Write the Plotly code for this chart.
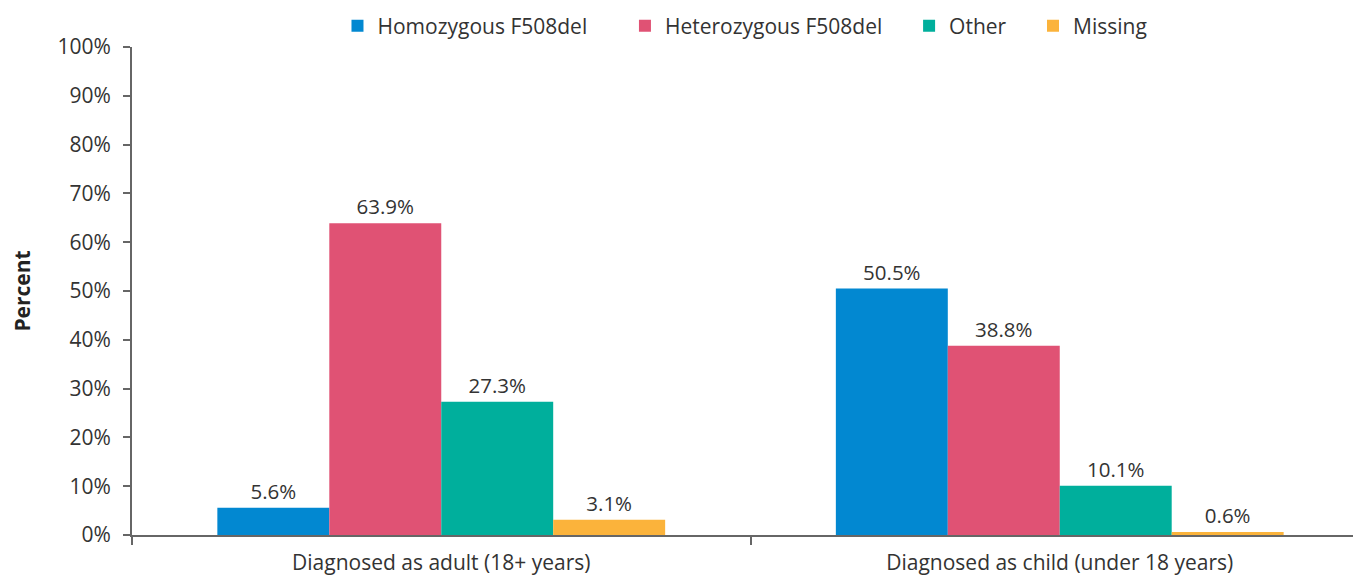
import plotly.graph_objects as go

categories = ["Diagnosed as adult (18+ years)", "Diagnosed as child (under 18 years)"]
series_names = ["Homozygous F508del", "Heterozygous F508del", "Other", "Missing"]
homozygous = [5.6, 50.5]
heterozygous = [63.9, 38.8]
other = [27.3, 10.1]
missing = [3.1, 0.6]
y_ticks = [0, 10, 20, 30, 40, 50, 60, 70, 80, 90, 100]
y_tick_labels = [f"{v}%" for v in y_ticks]

colors = ["#0288D1", "#E05274", "#00AF9C", "#FBB33B"]
values = [homozygous, heterozygous, other, missing]
legend_pad = ["\u00a0" * 6, "\u00a0" * 4, "\u00a0" * 4, ""]

FONT = "Open Sans"
FS = 21
fig = go.Figure()
for name, vals, col, pad in zip(series_names, values, colors, legend_pad):
    fig.add_trace(go.Bar(
        x=categories, y=vals, name=name + pad, marker=dict(color=col, line=dict(width=0)),
        text=[f"{v:.1f}%" for v in vals], textposition="outside",
        textfont=dict(family=FONT, size=20.5, color="#333333"), cliponaxis=False,
    ))

fig.update_layout(
    width=1361, height=575,
    margin=dict(l=124, r=0, t=39, b=48, autoexpand=False),
    paper_bgcolor="white", plot_bgcolor="white",
    barmode="group", bargap=0.276, bargroupgap=0,
    font=dict(family=FONT, size=FS, color="#333333"),
    legend=dict(orientation="h", x=0.5415, xanchor="center", xref="container",
                y=1 - 18 / 575, yanchor="middle", yref="container",
                font=dict(family=FONT, size=FS, color="#333333"), itemwidth=30,
                traceorder="normal"),
    showlegend=True,
    yaxis=dict(range=[0, 100], tickvals=y_ticks, ticktext=y_tick_labels, automargin=False,
               showgrid=False, zeroline=False, showline=True, linecolor="#666666", linewidth=2,
               ticks="outside", ticklen=7, tickcolor="#666666", tickwidth=2, ticklabelstandoff=8,
               title=dict(text="<b>Percent</b>", font=dict(family=FONT, size=FS, color="#222222"), standoff=34),
               tickfont=dict(family=FONT, size=FS, color="#333333")),
    xaxis=dict(type="category", range=[-0.5, 1.5], showgrid=False, showline=True, automargin=False,
               linecolor="#666666", linewidth=2, ticks="outside", tickson="boundaries",
               ticklen=8, tickcolor="#666666", tickwidth=2, ticklabelstandoff=8,
               tickfont=dict(family=FONT, size=FS, color="#333333")),
)
fig.write_html("out.html")
